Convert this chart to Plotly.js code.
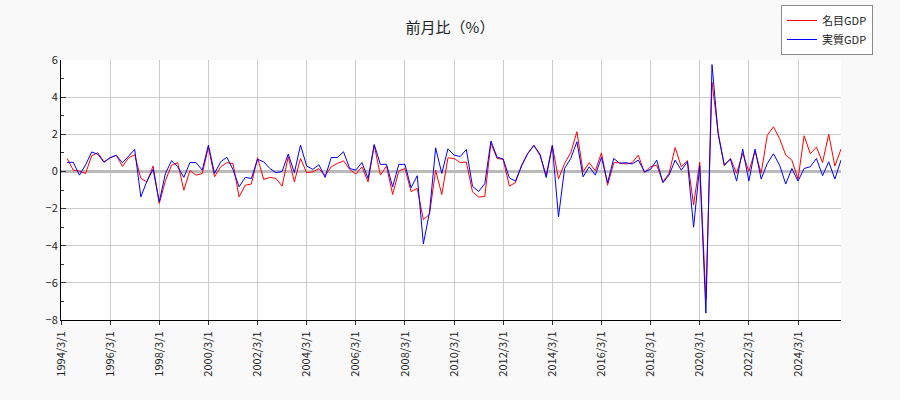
<!DOCTYPE html>
<html>
<head>
<meta charset="utf-8">
<script src="https://cdn.plot.ly/plotly-3.0.1.min.js"></script>
<style>
  body { margin: 0; background: #f9f9f9; }
  #chart { width: 900px; height: 400px; }
</style>
</head>
<body>
<div id="chart"></div>
<script>
// quarters from 1994/3/1, first quarter has no q/q value
var startYear = 1994;
var quarterCount = 128;

// 名目GDP q/q (%)
var nominal = [null,
  0.7, 0.07, 0.02, -0.11, 0.85, 1.0, 0.52, 0.73, 0.88, 0.27,
  0.73, 0.9, -0.38, -0.56, 0.29, -1.73, -0.5, 0.34, 0.47, -1.01,
  0.05, -0.2, -0.11, 1.29, -0.29, 0.25, 0.47, 0.43, -1.37, -0.74,
  -0.68, 0.74, -0.43, -0.32, -0.38, -0.79, 0.79, -0.56, 0.7, -0.07,
  -0.02, 0.15, -0.23, 0.25, 0.43, 0.57, 0.11, -0.14, 0.25, -0.56,
  1.41, -0.2, 0.29, -1.24, 0.02, 0.16, -1.09, -0.91, -2.6, -2.3,
  0.07, -1.24, 0.73, 0.7, 0.48, 0.5, -1.1, -1.38, -1.35, 1.52,
  0.7, 0.65, -0.79, -0.6, 0.34, 0.97, 1.4, 0.85, -0.2, 1.4,
  -0.4, 0.43, 1.01, 2.14, -0.02, 0.47, 0.04, 1.0, -0.74, 0.47,
  0.47, 0.4, 0.47, 0.88, -0.07, 0.25, 0.34, -0.56, -0.11, 1.29,
  0.25, 0.58, -1.8, 0.5, -6.9, 4.8, 2.1, 0.3, 0.7, -0.1,
  0.97, 0.0, 1.1, -0.1, 1.95, 2.4, 1.77, 0.88, 0.61, -0.41,
  1.92, 0.95, 1.31, 0.48, 2.0, 0.29, 1.2];

// 実質GDP q/q (%)
var real = [null,
  0.49, 0.49, -0.2, 0.35, 1.05, 0.92, 0.49, 0.74, 0.87, 0.47,
  0.82, 1.19, -1.37, -0.52, 0.11, -1.64, -0.11, 0.58, 0.25, -0.32,
  0.48, 0.47, 0.07, 1.42, -0.11, 0.52, 0.76, 0.1, -0.83, -0.32,
  -0.38, 0.65, 0.52, 0.16, -0.07, 0.0, 0.94, -0.07, 1.42, 0.29,
  0.11, 0.36, -0.32, 0.75, 0.75, 1.06, 0.16, 0.07, 0.48, -0.38,
  1.45, 0.38, 0.38, -0.83, 0.38, 0.38, -0.88, -0.23, -3.9, -2.2,
  1.27, -0.11, 1.22, 0.88, 0.8, 1.18, -0.8, -1.08, -0.66, 1.64,
  0.77, 0.67, -0.35, -0.52, 0.3, 0.97, 1.4, 0.92, -0.33, 1.4,
  -2.45, 0.16, 0.7, 1.6, -0.29, 0.25, -0.2, 0.76, -0.61, 0.7,
  0.43, 0.47, 0.4, 0.61, -0.02, 0.11, 0.61, -0.61, -0.2, 0.61,
  0.07, 0.52, -3.0, 0.3, -7.63, 5.75, 2.0, 0.35, 0.66, -0.52,
  1.2, -0.52, 1.2, -0.41, 0.43, 0.95, 0.34, -0.68, 0.16, -0.52,
  0.16, 0.25, 0.7, -0.23, 0.52, -0.41, 0.61];

var quarters = [];
for (var i = 0; i < quarterCount; i++) {
  var y = startYear + Math.floor(i / 4);
  var m = (i % 4) * 3 + 3;
  quarters.push(y + '/' + m + '/1');
}

// label every 2 years
var tickLabels = quarters.filter(function (q, i) { return i % 8 == 0; });

var font = '"Noto Sans CJK JP", "DejaVu Sans", sans-serif';

var data = [
  {
    x: quarters, y: nominal, name: '名目GDP', type: 'scatter', mode: 'lines',
    line: {color: '#ff0000', width: 1}
  },
  {
    x: quarters, y: real, name: '実質GDP', type: 'scatter', mode: 'lines',
    line: {color: '#0000ff', width: 1}
  }
];

var layout = {
  width: 900, height: 400,
  paper_bgcolor: '#f9f9f9', plot_bgcolor: '#ffffff',
  margin: {l: 61, r: 59, t: 60, b: 80, autoexpand: false},
  font: {family: font, size: 11, color: '#222'},
  title: {text: '前月比（%）', x: 0.5, xanchor: 'center', y: 0.93, yanchor: 'middle',
          font: {family: font, size: 15, color: '#222'}},
  showlegend: true,
  legend: {x: 1.041, xanchor: 'right', y: 1.2115, yanchor: 'top',
           bgcolor: '#ffffff', bordercolor: '#888', borderwidth: 1,
           font: {family: font, size: 11, color: '#222'},
           tracegroupgap: 0, itemwidth: 30},
  xaxis: {
    type: 'category', range: [0, quarterCount - 1],
    tickmode: 'array', tickvals: tickLabels, ticktext: tickLabels,
    tickangle: -90, ticks: 'outside', ticklen: 4, tickcolor: '#333',
    ticklabelstandoff: 2,
    showgrid: true, gridcolor: '#cccccc', gridwidth: 1,
    showline: true, linecolor: '#000', linewidth: 1,
    zeroline: false, tickfont: {size: 11, color: '#222'}
  },
  yaxis: {
    range: [-8, 6], dtick: 2, ticks: 'inside', ticklen: 5, tickcolor: '#333',
    showgrid: true, gridcolor: '#cccccc', gridwidth: 1,
    showline: true, linecolor: '#000', linewidth: 1,
    zeroline: true, zerolinecolor: '#bbbbbb', zerolinewidth: 3,
    minor: {dtick: 1, ticks: 'inside', ticklen: 3, tickcolor: '#333', showgrid: false},
    tickfont: {size: 11, color: '#222'}
  }
};

Plotly.newPlot('chart', data, layout, {displayModeBar: false, staticPlot: true});
</script>
</body>
</html>
